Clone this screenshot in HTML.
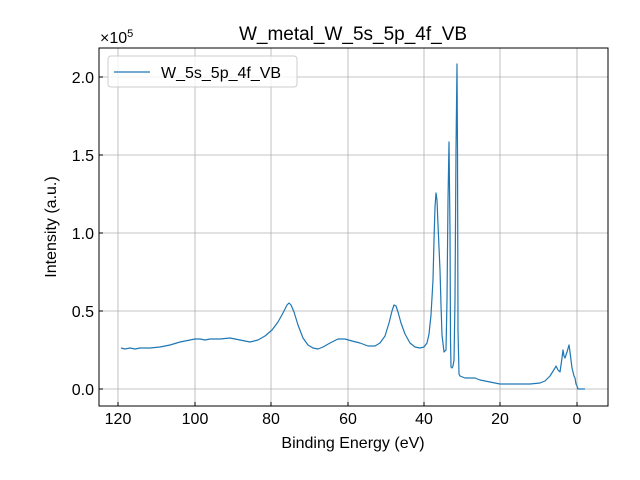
<!DOCTYPE html>
<html><head><meta charset="utf-8"><style>
html,body{margin:0;padding:0;background:#fff;}
svg{display:block;font-family:"Liberation Sans",sans-serif;}
</style></head><body>
<svg width="640" height="480" viewBox="0 0 640 480">
<rect width="640" height="480" fill="#fff"/>
<g stroke="#b0b0b0" stroke-width="0.8">
<line x1="118" y1="48" x2="118" y2="406"/><line x1="195" y1="48" x2="195" y2="406"/>
<line x1="271" y1="48" x2="271" y2="406"/><line x1="348" y1="48" x2="348" y2="406"/>
<line x1="424" y1="48" x2="424" y2="406"/><line x1="500" y1="48" x2="500" y2="406"/>
<line x1="577" y1="48" x2="577" y2="406"/>
<line x1="99" y1="389" x2="608" y2="389"/><line x1="99" y1="311" x2="608" y2="311"/>
<line x1="99" y1="233" x2="608" y2="233"/><line x1="99" y1="155" x2="608" y2="155"/>
<line x1="99" y1="77" x2="608" y2="77"/>
</g>
<polyline fill="none" stroke="#1f77b4" stroke-width="1.2" stroke-linejoin="round" points="
121,348 125,349 130,348 135,349 140,348 150,348 160,347 170,345 180,342 190,340 195,339 200,339 205,340 210,339 220,339 230,338 240,340 250,342 258,340 265,336 272,330 278,322 283,313 287,305 289,303 291,305 294,312 298,325 303,338 308,345 313,348 318,349 323,347 330,343 338,339 345,339 352,341 360,343 368,346 375,346 380,343 385,336 389,323 392,311 394,305 396,306 398,312 401,323 405,334 410,343 415,347 420,348 424,347 427,343 429,334 431,315 433,280 434,240 435,207 436,193 437,200 438,225 440,270 441,305 442,335 444,352 446,350 447,300 448,200 449,142 450,230 450.5,340 451,367 452,368 453,366 454,360 455,300 456,150 457,64 457.5,150 458,330 459,374 460,376 465,378 470,378 475,378 480,380 490,382 500,384 510,384 520,384 530,384 540,383 545,381 550,376 555,368 556,366 558,370 560,372 562,358 563,350 564,356 565,358 567,352 569,345 570,352 572,368 574,376 575,378 576,384 577,386 578,389 585,389"/>
<rect x="99" y="48" width="509" height="358" fill="none" stroke="#000" stroke-width="1"/>
<g stroke="#000" stroke-width="1">
<line x1="118" y1="406" x2="118" y2="402"/><line x1="195" y1="406" x2="195" y2="402"/>
<line x1="271" y1="406" x2="271" y2="402"/><line x1="348" y1="406" x2="348" y2="402"/>
<line x1="424" y1="406" x2="424" y2="402"/><line x1="500" y1="406" x2="500" y2="402"/>
<line x1="577" y1="406" x2="577" y2="402"/>
<line x1="99" y1="389" x2="103" y2="389"/><line x1="99" y1="311" x2="103" y2="311"/>
<line x1="99" y1="233" x2="103" y2="233"/><line x1="99" y1="155" x2="103" y2="155"/>
<line x1="99" y1="77" x2="103" y2="77"/>
</g>
<g font-size="16" text-anchor="middle" fill="#000">
<text x="118" y="424">120</text><text x="195" y="424">100</text><text x="271" y="424">80</text>
<text x="348" y="424">60</text><text x="424" y="424">40</text><text x="500" y="424">20</text><text x="577" y="424">0</text>
</g>
<g font-size="16" text-anchor="end" fill="#000">
<text x="94" y="395">0.0</text><text x="94" y="317">0.5</text><text x="94" y="239">1.0</text>
<text x="94" y="161">1.5</text><text x="94" y="83">2.0</text>
</g>
<text x="100" y="43" font-size="16">×10<tspan font-size="11" dy="-6">5</tspan></text>
<text x="353" y="40" font-size="19" text-anchor="middle">W_metal_W_5s_5p_4f_VB</text>
<text x="353" y="448" font-size="16" text-anchor="middle">Binding Energy (eV)</text>
<text transform="translate(56,227) rotate(-90)" font-size="16" text-anchor="middle">Intensity (a.u.)</text>
<rect x="108" y="56" width="189" height="31" rx="3" fill="#fff" fill-opacity="0.8" stroke="#ccc"/>
<line x1="114" y1="72" x2="150" y2="72" stroke="#1f77b4" stroke-width="1.2"/>
<text x="161" y="78" font-size="16">W_5s_5p_4f_VB</text>
</svg>
</body></html>
